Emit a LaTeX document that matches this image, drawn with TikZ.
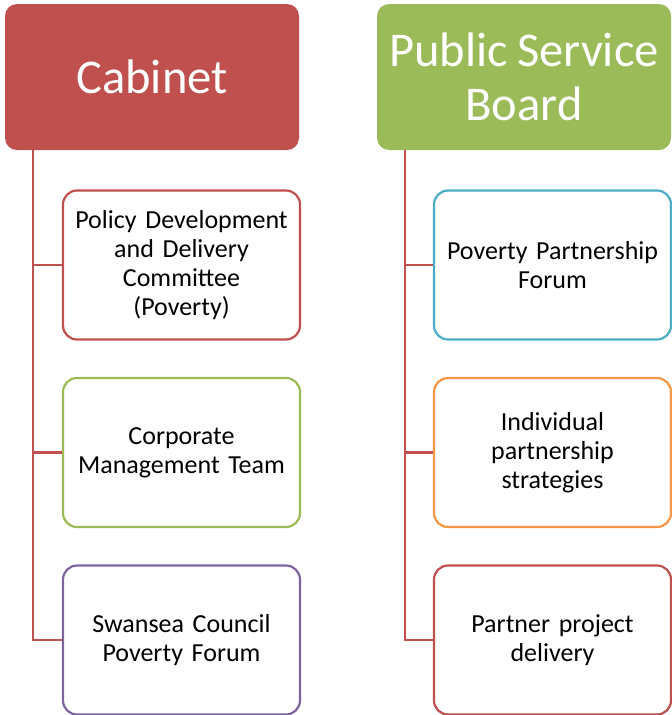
\documentclass[tikz,border=0pt]{standalone}
\usepackage{fontspec}
\setmainfont{Carlito}[WordSpace=0.85]
\definecolor{cred}{HTML}{C0504D}
\definecolor{cgreen}{HTML}{9BBB59}
\definecolor{cpurple}{HTML}{8064A2}
\definecolor{cblue}{HTML}{4BACC6}
\definecolor{corange}{HTML}{F79646}
\begin{document}
\begin{tikzpicture}[x=1pt,y=-1pt,
  head/.style={rounded corners=12pt, fill=#1, draw=none, text=white,
    font=\fontsize{48.5}{53.5}\selectfont, align=center,
    minimum width=294pt, minimum height=146pt, inner sep=0pt},
  childbox/.style={rounded corners=14pt, draw=#1, line width=2.2pt, fill=white,
    font=\fontsize{26}{29}\selectfont, align=center, text width=232pt,
    minimum width=237pt, minimum height=149pt, inner sep=0pt},
  conn/.style={draw=cred, line width=2.5pt}]
\useasboundingbox (0,0) rectangle (672,715);
\node[head=cred] (cab) at (152,77) {Cabinet};
\node[head=cgreen] (psb) at (524,77) {Public Service\\Board};
\coordinate (lx) at (33,150);
\coordinate (rx) at (405,150);
\node[childbox=cred] (l1) at (181.5,265) {Policy Development\\and Delivery\\Committee\\(Poverty)};
\node[childbox=cgreen] (l2) at (181.5,452.5) {Corporate\\Management Team};
\node[childbox=cpurple] (l3) at (181.5,640) {Swansea Council\\Poverty Forum};
\node[childbox=cblue] (r1) at (552.5,265) {Poverty Partnership\\Forum};
\node[childbox=corange] (r2) at (552.5,452.5) {Individual\\partnership\\strategies};
\node[childbox=cred] (r3) at (552.5,640) {Partner project\\delivery};
\draw[conn] (lx) |- (l1.west);
\draw[conn] (lx) |- (l2.west);
\draw[conn] (lx) |- (l3.west);
\draw[conn] (rx) |- (r1.west);
\draw[conn] (rx) |- (r2.west);
\draw[conn] (rx) |- (r3.west);
\end{tikzpicture}
\end{document}
